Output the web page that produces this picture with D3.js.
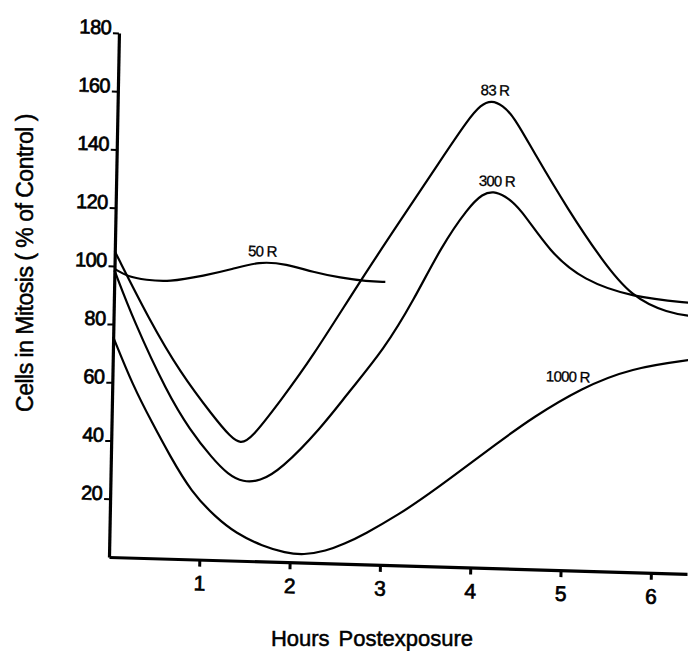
<!DOCTYPE html>
<html>
<head>
<meta charset="utf-8">
<script src="https://cdn.jsdelivr.net/npm/d3@7"></script>
<style>
  body { margin: 0; background: #fff; }
  svg { display: block; font-family: "Liberation Sans", Arial, sans-serif; }
</style>
</head>
<body>
<svg id="chart" width="688" height="651"></svg>
<script>
// values (hours, % of control)
var hours50 = [0, 0.15, 0.35, 0.6, 1.0, 1.3, 1.6, 1.9, 2.2, 2.5, 2.8, 3.0];
var vals50  = [99, 96.4, 95.5, 95, 97.6, 100, 103, 102.4, 99.8, 98.2, 97.2, 97.2];

var hours83 = [0, 0.4, 0.75, 1.13, 1.32, 1.43, 1.55, 1.87, 2.19, 2.73, 3.16, 3.59, 3.88, 4.02, 4.14, 4.26, 4.39, 4.62, 5.01, 5.39, 5.73, 6.14, 6.4];
var vals83  = [105, 81.6, 64, 49.1, 42.4, 40.2, 42, 55.6, 69.7, 97.7, 118.7, 139.7, 153.7, 159, 160.6, 159, 155.2, 143, 123.7, 106.9, 94.4, 89.3, 88.5];

var hours300 = [0, 0.22, 0.61, 0.87, 1.12, 1.3, 1.47, 1.65, 1.88, 2.32, 2.61, 3.0, 3.32, 3.61, 3.9, 4.06, 4.18, 4.3, 4.47, 4.82, 5.19, 5.73, 6.4];
var vals300  = [98.5, 81.6, 56.9, 44.4, 35, 29.5, 27, 27.5, 31.6, 46.4, 58.7, 74, 91.3, 109.8, 123.5, 128.5, 129.4, 128, 124.3, 108.8, 99.8, 94.4, 93];

var hours1000 = [0, 0.23, 0.45, 0.65, 0.9, 1.17, 1.4, 1.7, 1.95, 2.15, 2.4, 2.6, 2.82, 3.2, 3.55, 4.32, 4.65, 5.19, 5.74, 6.4];
var vals1000  = [75.6, 59, 46.5, 35.5, 23, 14.8, 9.4, 5.2, 3.2, 2.6, 4.2, 6.8, 10.3, 17.5, 25.2, 44.1, 51.9, 62.7, 70.1, 73.5];

var yTicks = [20, 40, 60, 80, 100, 120, 140, 160, 180];
var xTicks = [1, 2, 3, 4, 5, 6];

var series = [
  {name: "50 R",   hours: hours50,   vals: vals50},
  {name: "83 R",   hours: hours83,   vals: vals83},
  {name: "300 R",  hours: hours300,  vals: vals300},
  {name: "1000 R", hours: hours1000, vals: vals1000, labelAt: [5.28, 63], anchor: "end"}
];

var svg = d3.select("#chart");

// the scan is a bit skewed, so the plot group gets a small shear
var g = svg.append("g")
  .attr("transform", "matrix(1 0.029 -0.019 1 109 557)");

var x = d3.scaleLinear().domain([0, 6.4]).range([0, 578]);
var y = d3.scaleLinear().domain([0, 180]).range([0, -524]);

// y axis
var yAxis = g.append("g")
  .call(d3.axisLeft(y).tickValues(yTicks).tickSize(6).tickSizeOuter(0).tickPadding(2));
yAxis.select(".domain").attr("stroke-width", 3.2);
yAxis.selectAll(".tick line").attr("stroke-width", 2);
yAxis.selectAll(".tick text")
  .attr("dy", "0.05em")
  .attr("font-size", 20)
  .attr("letter-spacing", -0.6)
  .attr("fill", "#000")
  .attr("stroke", "#000")
  .attr("stroke-width", 0.7);

// x axis
var xAxis = g.append("g")
  .call(d3.axisBottom(x).tickValues(xTicks).tickFormat(d3.format("d"))
    .tickSize(7).tickSizeOuter(0).tickPadding(9));
xAxis.select(".domain").attr("stroke-width", 3.2);
xAxis.selectAll(".tick line").attr("stroke-width", 3);
xAxis.selectAll(".tick text")
  .attr("font-size", 21)
  .attr("fill", "#000")
  .attr("stroke", "#000")
  .attr("stroke-width", 0.7);

// smooth hand-drawn look
var line = d3.line()
  .x(function(d){ return x(d[0]); })
  .y(function(d){ return y(d[1]); })
  .curve(d3.curveBasis);

series.forEach(function(s){
  var pts = s.hours.map(function(h, i){ return [h, s.vals[i]]; });
  g.append("path")
    .attr("d", line(pts))
    .attr("fill", "none")
    .attr("stroke", "#000")
    .attr("stroke-width", 2.2);

  var lab = s.labelAt;
  var dx = 0, dy = -5;
  if (!lab) {
    // label sits just over the hump of the curve
    var top = d3.maxIndex(s.vals);
    lab = [s.hours[top], s.vals[top]];
    dx = 3;
  }
  g.append("text")
    .attr("x", x(lab[0]) + dx)
    .attr("y", y(lab[1]) + dy)
    .attr("text-anchor", s.anchor || "middle")
    .attr("font-size", 15)
    .attr("letter-spacing", -0.8)
    .attr("stroke", "#000")
    .attr("stroke-width", 0.3)
    .text(s.name);
});

// axis titles
var xt = svg.append("text")
  .attr("x", 372)
  .attr("y", 646)
  .attr("text-anchor", "middle")
  .attr("font-size", 22)
  .attr("stroke", "#000")
  .attr("stroke-width", 0.5);
xt.append("tspan").text("Hours");
xt.append("tspan").attr("dx", 9).text("Postexposure");

svg.append("text")
  .attr("transform", "translate(33,263) rotate(-90)")
  .attr("text-anchor", "middle")
  .attr("font-size", 23)
  .attr("letter-spacing", -0.5)
  .attr("stroke", "#000")
  .attr("stroke-width", 0.5)
  .text("Cells in Mitosis ( % of Control )");
</script>
</body>
</html>
